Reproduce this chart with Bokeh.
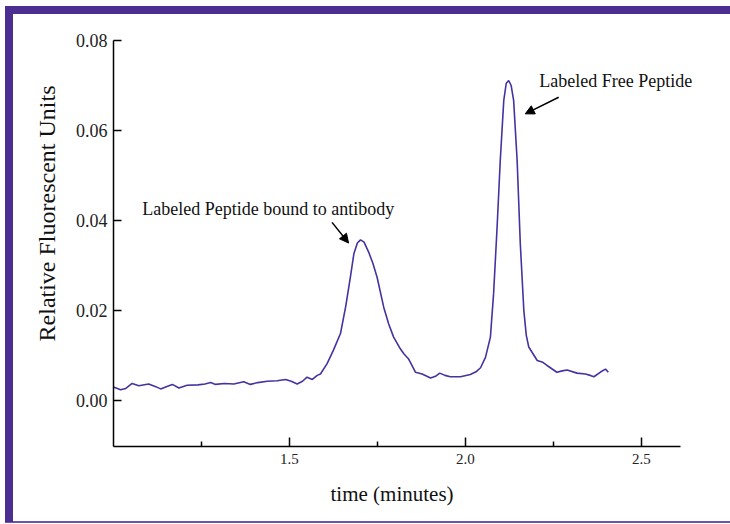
from bokeh.plotting import figure
from bokeh.models import (Range1d, FixedTicker, PrintfTickFormatter, Arrow, NormalHead,
                          Label, Title)
from bokeh.embed import file_html
from bokeh.resources import INLINE

# ---- data ----
time_min = [1.000, 1.020, 1.035, 1.053, 1.072, 1.100, 1.120, 1.134, 1.150, 1.167,
            1.186, 1.209, 1.240, 1.260, 1.276, 1.290, 1.315, 1.342, 1.370, 1.389,
            1.410, 1.437, 1.465, 1.489, 1.505, 1.522, 1.537, 1.550, 1.565, 1.579,
            1.588, 1.607, 1.625, 1.645, 1.660, 1.673, 1.683, 1.693, 1.702, 1.712,
            1.725, 1.737, 1.749, 1.768, 1.782, 1.796, 1.815, 1.825, 1.838, 1.858,
            1.877, 1.901, 1.915, 1.927, 1.942, 1.957, 1.986, 2.014, 2.030, 2.043,
            2.057, 2.071, 2.080, 2.090, 2.099, 2.109, 2.116, 2.123, 2.130, 2.137,
            2.147, 2.156, 2.166, 2.173, 2.180, 2.204, 2.220, 2.232, 2.260, 2.275,
            2.289, 2.317, 2.341, 2.355, 2.365, 2.385, 2.398, 2.406]
rfu = [0.0030, 0.0024, 0.0027, 0.0038, 0.0033, 0.0037, 0.0031, 0.0026, 0.0031, 0.0036,
       0.0028, 0.0034, 0.0035, 0.0037, 0.0040, 0.0036, 0.0038, 0.0037, 0.0042, 0.0036,
       0.0040, 0.0043, 0.0044, 0.0047, 0.0043, 0.0037, 0.0043, 0.0052, 0.0047, 0.0056,
       0.0059, 0.0082, 0.0112, 0.0149, 0.0210, 0.0274, 0.0326, 0.0350, 0.0357, 0.0352,
       0.0330, 0.0305, 0.0274, 0.0207, 0.0170, 0.0141, 0.0115, 0.0104, 0.0093, 0.0063,
       0.0059, 0.0050, 0.0054, 0.0061, 0.0056, 0.0053, 0.0053, 0.0058, 0.0064, 0.0073,
       0.0096, 0.0141, 0.0237, 0.0385, 0.0533, 0.0667, 0.0705, 0.0711, 0.0700, 0.0667,
       0.0533, 0.0348, 0.0200, 0.0145, 0.0119, 0.0089, 0.0085, 0.0078, 0.0063, 0.0066,
       0.0068, 0.0061, 0.0059, 0.0056, 0.0053, 0.0064, 0.0070, 0.0063]

x_ticks = [1.5, 2.0, 2.5]
x_minor_ticks = [1.25, 1.75, 2.25]
x_axis_bounds = (1.0, 2.611)
y_ticks = [0.00, 0.02, 0.04, 0.06, 0.08]

label_bound = "Labeled Peptide bound to antibody"
label_free = "Labeled Free Peptide"
x_title = "time (minutes)"
y_title = "Relative Fluorescent Units"

FONT = "Liberation Serif"
PURPLE = "#4b2e90"
LINE = "#4632a0"

p = figure(width=730, height=524, output_backend="svg", toolbar_location=None,
           x_range=Range1d(1.0, 2.668), y_range=Range1d(-0.0102, 0.08),
           min_border_left=113, min_border_right=30, min_border_top=40,
           min_border_bottom=78)
p.outline_line_color = None
p.background_fill_color = "white"
p.border_fill_color = None
p.grid.visible = False

# decorative purple frame around the page (CSS background on the plot element)
band = "linear-gradient({c},{c})"
p.styles = {
    "background": ", ".join([
        band.format(c=PURPLE) + " 5px 6px / 725px 8px no-repeat",
        band.format(c=PURPLE) + " 5px 6px / 8px 516px no-repeat",
        band.format(c="#6a56b0") + " 5px 521px / 725px 2px no-repeat",
        "white",
    ])
}

p.line(time_min, rfu, line_color=LINE, line_width=1.6)

# x axis
xa = p.xaxis[0]
xa.bounds = x_axis_bounds
xa.ticker = FixedTicker(ticks=x_ticks, minor_ticks=x_minor_ticks)
xa.formatter = PrintfTickFormatter(format="%.1f")
xa.major_tick_in = 9
xa.major_tick_out = 0
xa.minor_tick_in = 5
xa.minor_tick_out = 0
xa.axis_line_width = 1.5
xa.major_tick_line_width = 1.5
xa.minor_tick_line_width = 1.5
xa.major_label_text_font = FONT
xa.major_label_text_font_size = "15px"
xa.major_label_text_color = "#222222"
xa.major_label_standoff = 7

# y axis
ya = p.yaxis[0]
ya.ticker = FixedTicker(ticks=y_ticks)
ya.formatter = PrintfTickFormatter(format="%.2f")
ya.major_tick_in = 8
ya.major_tick_out = 0
ya.minor_tick_line_color = None
ya.axis_line_width = 1.5
ya.major_tick_line_width = 1.5
ya.major_label_text_font = FONT
ya.major_label_text_font_size = "18px"
ya.major_label_text_color = "#222222"
ya.major_label_standoff = 6

# axis titles as side titles, placed like the reference
p.add_layout(Title(text=y_title, align="right", offset=45, standoff=25,
                   text_font=FONT, text_font_size="24px", text_font_style="normal",
                   text_color="#111111"), "left")
p.add_layout(Title(text=x_title, align="left", offset=217, standoff=26,
                   vertical_align="bottom",
                   text_font=FONT, text_font_size="21px", text_font_style="normal",
                   text_color="#111111"), "below")

# annotations
p.add_layout(Label(x=1.082, y=0.0425, text=label_bound, text_align="left",
                   text_baseline="middle", text_font=FONT, text_font_size="18px",
                   text_color="#111111"))
p.add_layout(Label(x=2.210, y=0.0709, text=label_free, text_align="left",
                   text_baseline="middle", text_font=FONT, text_font_size="18px",
                   text_color="#111111"))
p.add_layout(Arrow(end=NormalHead(size=9, fill_color="black", line_color="black"),
                   x_start=1.621, y_start=0.0396, x_end=1.668, y_end=0.0350,
                   line_width=1.5, line_color="black"))
p.add_layout(Arrow(end=NormalHead(size=9, fill_color="black", line_color="black"),
                   x_start=2.265, y_start=0.0674, x_end=2.170, y_end=0.0637,
                   line_width=1.5, line_color="black"))

open("out.html", "w").write(file_html(p, INLINE))
